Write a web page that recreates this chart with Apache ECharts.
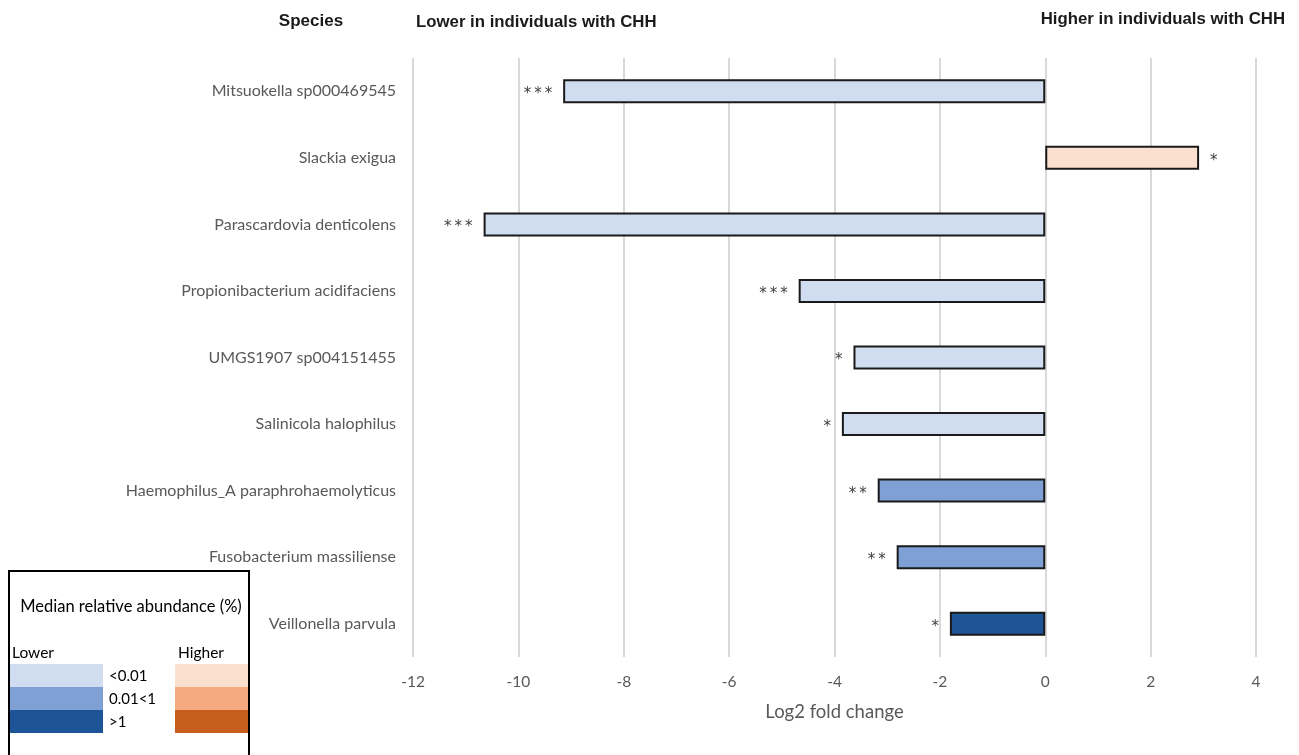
<!DOCTYPE html>
<html>
<head>
<meta charset="utf-8">
<script src="https://cdn.jsdelivr.net/npm/echarts@6/dist/echarts.min.js"></script>
<style>html,body{margin:0;padding:0;background:#fff}#c{width:1299px;height:755px}</style>
</head>
<body>
<div id="c"></div>
<script>
const species = ['Mitsuokella sp000469545','Slackia exigua','Parascardovia denticolens','Propionibacterium acidifaciens','UMGS1907 sp004151455','Salinicola halophilus','Haemophilus_A paraphrohaemolyticus','Fusobacterium massiliense','Veillonella parvula'];
const log2fc = [-9.15, 2.92, -10.66, -4.68, -3.64, -3.86, -3.18, -2.82, -1.81];
const significance = ['***','*','***','***','*','*','**','**','*'];
const abundanceClass = [0, 0, 0, 0, 0, 0, 1, 1, 2];
const xTicks = [-12, -10, -8, -6, -4, -2, 0, 2, 4];
const classLabels = ['<0.01', '0.01<1', '>1'];

const lowerColors = ['#D0DCEF', '#7FA0D4', '#1C5497'];
const higherColors = ['#FCE0CF', '#F6AA7F', '#C65E1E'];

const FONT = 'Lato, "Open Sans", sans-serif';
const HFONT = '"Liberation Sans", Arial, sans-serif';
const chart = echarts.init(document.getElementById('c'));

const data = log2fc.map((v, i) => ({
  value: v,
  itemStyle: { color: (v >= 0 ? higherColors : lowerColors)[abundanceClass[i]] },
  label: { position: v >= 0 ? 'right' : 'left' }
}));

const legendGraphics = [];
legendGraphics.push({ type: 'rect', shape: { x: 9, y: 571, width: 240, height: 200 }, style: { fill: '#fff', stroke: '#000', lineWidth: 2 }, z: 10 });
legendGraphics.push({ type: 'text', x: 131, y: 607, style: { text: 'Median relative abundance (%)', font: '16.5px ' + FONT, fill: '#000', textAlign: 'center', textVerticalAlign: 'middle' }, z: 11 });
legendGraphics.push({ type: 'text', x: 12, y: 653, style: { text: 'Lower', font: '15.5px ' + FONT, fill: '#000', textAlign: 'left', textVerticalAlign: 'middle' }, z: 11 });
legendGraphics.push({ type: 'text', x: 178, y: 653, style: { text: 'Higher', font: '15.5px ' + FONT, fill: '#000', textAlign: 'left', textVerticalAlign: 'middle' }, z: 11 });
classLabels.forEach((lab, k) => {
  const y0 = 664 + k * 23;
  legendGraphics.push({ type: 'rect', shape: { x: 10, y: y0, width: 93, height: 23 }, style: { fill: lowerColors[k] }, z: 11 });
  legendGraphics.push({ type: 'rect', shape: { x: 175, y: y0, width: 73, height: 23 }, style: { fill: higherColors[k] }, z: 11 });
  legendGraphics.push({ type: 'text', x: 109, y: y0 + 12, style: { text: lab, font: '15px ' + FONT, fill: '#000', textAlign: 'left', textVerticalAlign: 'middle' }, z: 11 });
});

chart.setOption({
  animation: false,
  backgroundColor: '#fff',
  grid: { left: 413, right: 43, top: 58, bottom: 98, containLabel: false },
  xAxis: {
    type: 'value', min: xTicks[0], max: xTicks[xTicks.length - 1], interval: 2,
    name: 'Log2 fold change', nameLocation: 'middle', nameGap: 46,
    nameTextStyle: { fontFamily: FONT, fontSize: 18.5, color: '#595959' },
    axisLine: { show: false }, axisTick: { show: false },
    axisLabel: { fontFamily: FONT, fontSize: 15.5, color: '#595959', margin: 17 },
    splitLine: { show: true, lineStyle: { color: '#d9d9d9', width: 2 } }
  },
  yAxis: {
    type: 'category', data: species, inverse: true,
    axisLine: { show: false }, axisTick: { show: false },
    axisLabel: { fontFamily: FONT, fontSize: 16, color: '#595959', margin: 17 },
    splitLine: { show: false }
  },
  series: [{
    type: 'bar', data: data, barWidth: 24,
    itemStyle: { borderColor: '#1a1a1a', borderWidth: 2 },
    label: {
      show: true, distance: 11, fontFamily: '"DejaVu Sans", sans-serif', fontSize: 15, color: '#404040',
      offset: [0, 3],
      formatter: p => significance[p.dataIndex].split('').join('\u2009')
    }
  }],
  graphic: [
    { type: 'text', x: 311, y: 21, style: { text: 'Species', font: 'bold 17px ' + HFONT, fill: '#1a1a1a', textAlign: 'center', textVerticalAlign: 'middle' } },
    { type: 'text', x: 416, y: 22, style: { text: 'Lower in individuals with CHH', font: 'bold 16.8px ' + HFONT, fill: '#1a1a1a', textAlign: 'left', textVerticalAlign: 'middle' } },
    { type: 'text', x: 1285, y: 19, style: { text: 'Higher in individuals with CHH', font: 'bold 16.8px ' + HFONT, fill: '#1a1a1a', textAlign: 'right', textVerticalAlign: 'middle' } }
  ].concat(legendGraphics)
});
</script>
</body>
</html>
